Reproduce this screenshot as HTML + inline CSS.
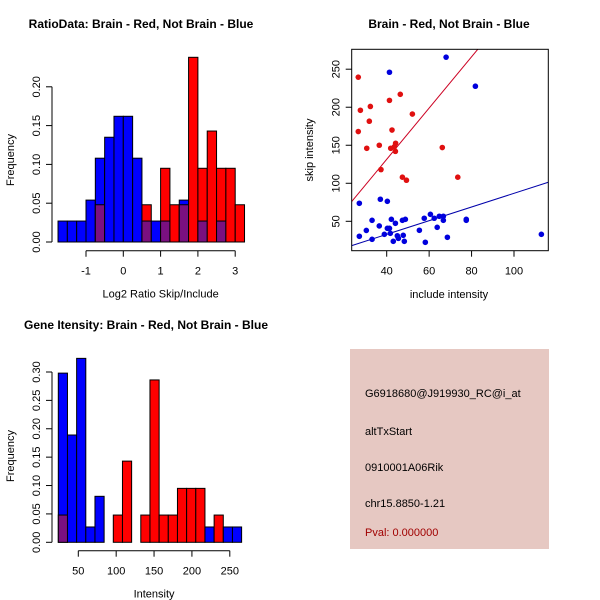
<!DOCTYPE html>
<html><head><meta charset="utf-8"><style>
html,body{margin:0;padding:0;background:#fff;}
svg{display:block;font-family:"Liberation Sans",sans-serif;}
</style></head><body>
<svg id="chart" width="600" height="600" viewBox="0 0 600 600">
<rect x="0" y="0" width="600" height="600" fill="#fff"/>
<g id="p1"></g>
<g id="p2"></g>
<g id="p3"></g>
<g>
<rect x="350" y="349" width="199" height="200" fill="#e6c8c2"/>
<g font-size="11" fill="#000">
<text x="365" y="397">G6918680@J919930_RC@i_at</text>
<text x="365" y="435">altTxStart</text>
<text x="365" y="471">0910001A06Rik</text>
<text x="365" y="507">chr15.8850-1.21</text>
<text x="365" y="536" fill="#a00000">Pval: 0.000000</text>
</g></g>
</svg>
<script>
// ---- Panel 1 data: ratio histogram ----
const ratioStart = -1.75;
const ratioWidth = 0.25;
const ratioBlue = [0.027,0.027,0.027,0.054,0.108,0.135,0.162,0.162,0.108,0.027,0.027,0.027,0,0.054,0,0.027,0,0.027,0,0];
const ratioRed  = [0,0,0,0,0.048,0,0,0,0,0.048,0,0.095,0.048,0.048,0.238,0.095,0.143,0.095,0.095,0.048];
const ratioXTicks = [-1,0,1,2,3];
const ratioYTicks = ["0.00","0.05","0.10","0.15","0.20"];
// ---- Panel 2 data: scatter ----
const redX = [26.6,27.6,26.6,30.6,32.3,31.8,36.5,37.3,41.3,42.5,41.9,43.6,44.2,44.1,46.4,52.1,47.4,49.3,66.2,73.5];
const redY = [239.5,196,168,146,201,181.6,150,118,209,170,146,148,152.6,142,217,191,108,104,147,108];
const blueX = [68,41.3,81.8,27.1,37,40.3,27.1,30.4,33.1,33.1,36.5,38.9,40.3,41.3,41.7,42.2,44.1,43.1,45,45.5,47.8,47.4,48.8,48.3,55.4,57.7,58.2,60.6,62.4,63.8,64.8,66.7,66.7,68.6,77.5,77.5,112.9];
const blueY = [265.8,246,227.6,73.7,79,76.3,30.3,38,51.3,26.3,43.9,32.9,40.8,40.8,34.2,52.6,47.4,23.7,31,27.6,31.6,51.3,52.6,23.7,38.2,54,22.4,59.2,54,42.1,56.6,56.6,51.3,29,52.6,51.3,32.9];
const redFit = [-3.3, 3.37];
const blueFit = [-3.1, 0.899];
const scatXTicks = [40,60,80,100];
const scatYTicks = [50,100,150,200,250];
// ---- Panel 3 data: gene intensity histogram ----
const intStart = 23.6;
const intWidth = 12.1;
const intBlue = [0.298,0.189,0.324,0.027,0.081,0,0,0,0,0,0,0,0,0,0,0,0.027,0,0.027,0.027];
const intRed  = [0.048,0,0,0,0,0,0.048,0.143,0,0.048,0.286,0.048,0.048,0.095,0.095,0.095,0,0.048,0,0];
const intXTicks = [50,100,150,200,250];
const intYTicks = ["0.00","0.05","0.10","0.15","0.20","0.25","0.30"];

const NS="http://www.w3.org/2000/svg";
function mk(parent,tag,attrs,text){const e=document.createElementNS(NS,tag);for(const k in attrs)e.setAttribute(k,attrs[k]);if(text!==undefined)e.textContent=text;parent.appendChild(e);return e;}

function histogram(g,start,width,blue,red,xs,ys,yTicks,xTicks,xAxisY,yAxisX,title,titleX,xlab,ylabY){
  for(let i=0;i<blue.length;i++){
    const x0=xs(start+i*width), x1=xs(start+(i+1)*width);
    const b=blue[i], r=red[i];
    const hi=Math.max(b,r), lo=Math.min(b,r);
    if(hi>0){
      const el=mk(g,'rect',{x:x0,y:ys(hi),width:x1-x0,height:ys(0)-ys(hi),fill:(r>=b?'#ff0000':'#0000ff'),stroke:'#000','stroke-width':1});
      
      
    }
    if(lo>0){
      const el=mk(g,'rect',{x:x0,y:ys(lo),width:x1-x0,height:ys(0)-ys(lo),fill:'#7a1080',stroke:'#000','stroke-width':1});
      
      
    }
  }
  // y axis
  const yv=yTicks.map(Number);
  const ya=mk(g,'line',{x1:yAxisX,x2:yAxisX,y1:ys(yv[0]),y2:ys(yv[yv.length-1]),stroke:'#000'});
  
  
  yTicks.forEach(t=>{const y=ys(Number(t));mk(g,'line',{x1:yAxisX-6,x2:yAxisX,y1:y,y2:y,stroke:'#000'});
    const tx=mk(g,'text',{x:yAxisX-12,y:y,'font-size':11,'text-anchor':'middle',transform:`rotate(-90 ${yAxisX-12} ${y})`},t);
    
    });
  const xa=mk(g,'line',{x1:xs(xTicks[0]),x2:xs(xTicks[xTicks.length-1]),y1:xAxisY,y2:xAxisY,stroke:'#000'});
  
  
  xTicks.forEach(t=>{const x=xs(t);mk(g,'line',{x1:x,x2:x,y1:xAxisY,y2:xAxisY+6,stroke:'#000'});
    const tx=mk(g,'text',{x:x,y:xAxisY+24,'font-size':11,'text-anchor':'middle'},String(t));
    
    });
  const tt=mk(g,'text',{x:titleX,y:ys.titleY,'font-size':12,'font-weight':'bold','text-anchor':'middle'},title);
  
  
  const xl=mk(g,'text',{x:(xs(xTicks[0])+xs(xTicks[xTicks.length-1]))/2,y:xAxisY+47,'font-size':11,'text-anchor':'middle'},xlab);
  
  
  const yl=mk(g,'text',{x:14,y:ylabY,'font-size':11,'text-anchor':'middle',transform:`rotate(-90 14 ${ylabY})`},'Frequency');
  
  
}

// Panel 1
{
  const g=document.getElementById('p1');
  const xs=v=>123.3+v*37.3;
  const ys=v=>242-v*776;
  ys.titleY=28;
  histogram(g,ratioStart,ratioWidth,ratioBlue,ratioRed,xs,ys,ratioYTicks,ratioXTicks,250.7,52,'RatioData: Brain - Red, Not Brain - Blue',141,'Log2 Ratio Skip/Include',160);
}
// Panel 3
{
  const g=document.getElementById('p3');
  const xs=v=>78.3+(v-50)*0.7575;
  const ys=v=>542.3-v*567.7;
  ys.titleY=329;
  histogram(g,intStart,intWidth,intBlue,intRed,xs,ys,intYTicks,intXTicks,550.7,52,'Gene Itensity: Brain - Red, Not Brain - Blue',146,'Intensity',456);
}
// Panel 2
{
  const g=document.getElementById('p2');
  const L=351.7,R=548.3,T=49.3,B=250.7;
  const xs=v=>386.7+(v-40)*2.1217;
  const ys=v=>221.3-(v-50)*0.7605;
  const cp=mk(g,'clipPath',{id:'clip2'});mk(cp,'rect',{x:L,y:T,width:R-L,height:B-T});
  const xmin=(L-386.7)/2.1217+40, xmax=(R-386.7)/2.1217+40;
  [[redFit,'#cc0022','red-fit-line'],[blueFit,'#0000aa','blue-fit-line']].forEach(([f,c,n])=>{
    const l=mk(g,'line',{x1:xs(xmin),y1:ys(f[0]+f[1]*xmin),x2:xs(xmax),y2:ys(f[0]+f[1]*xmax),stroke:c,'stroke-width':1,'clip-path':'url(#clip2)'});
    
    
  });
  redX.forEach((x,i)=>{const c=mk(g,'circle',{cx:xs(x),cy:ys(redY[i]),r:2.8,fill:'#e01010'});
    
    });
  blueX.forEach((x,i)=>{const c=mk(g,'circle',{cx:xs(x),cy:ys(blueY[i]),r:2.8,fill:'#0000dd'});
    
    });
  const box=mk(g,'rect',{x:L,y:T,width:R-L,height:B-T,fill:'none',stroke:'#000'});
  
  
  scatXTicks.forEach(t=>{const x=xs(t);mk(g,'line',{x1:x,x2:x,y1:B,y2:B+6,stroke:'#000'});
    const tx=mk(g,'text',{x:x,y:B+24,'font-size':11,'text-anchor':'middle'},String(t));
    
    });
  scatYTicks.forEach(t=>{const y=ys(t);mk(g,'line',{x1:L-6,x2:L,y1:y,y2:y,stroke:'#000'});
    const tx=mk(g,'text',{x:L-12,y:y,'font-size':11,'text-anchor':'middle',transform:`rotate(-90 ${L-12} ${y})`},String(t));
    
    });
  const tt=mk(g,'text',{x:449,y:28,'font-size':12,'font-weight':'bold','text-anchor':'middle'},'Brain - Red, Not Brain - Blue');
  
  
  const xl=mk(g,'text',{x:449,y:298,'font-size':11,'text-anchor':'middle'},'include intensity');
  
  
  const yl=mk(g,'text',{x:313,y:150,'font-size':11,'text-anchor':'middle',transform:'rotate(-90 313 150)'},'skip intensity');
  
  
}
</script>
</body></html>
